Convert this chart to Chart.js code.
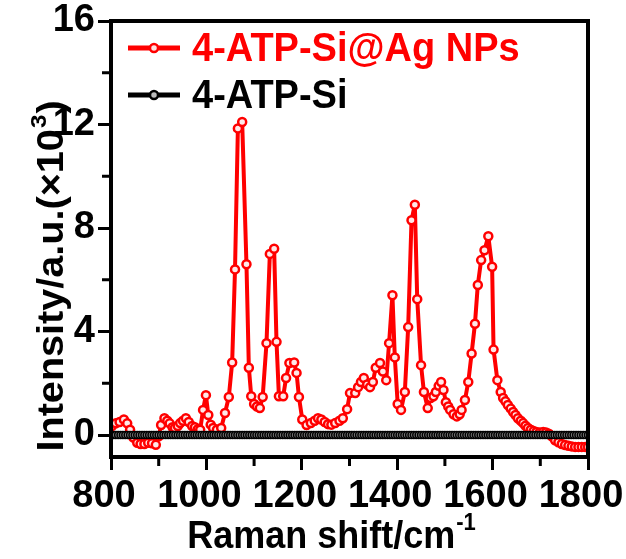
<!DOCTYPE html>
<html><head><meta charset="utf-8">
<script src="https://cdn.jsdelivr.net/npm/chart.js@4/dist/chart.umd.min.js"></script>
<style>html,body{margin:0;padding:0;background:#fff}canvas{display:block}</style>
</head><body><canvas id="c" width="626" height="559"></canvas>
<script>
// ---- data (intensity in units of 10^3 a.u.) ----
const redShift = [802,810,818,827,834,840,847,855,862,870,878,886,894,900,905,912,918,923,929,934,
940,945,951,957,963,970,976,982,987,993,999,1004,1009,1014,1022,1031,1039,1047,1054,1060,
1066,1075,1084,1089,1094,1100,1106,1112,1118,1126,1133,1142,1147,1152,1161,1167,1174,1184,1189,1194,
1201,1210,1219,1227,1234,1241,1248,1255,1262,1270,1279,1286,1295,1301,1312,1318,1324,1330,1337,1343,
1349,1355,1364,1370,1377,1383,1390,1395,1401,1408,1416,1423,1430,1437,1442,1450,1456,1464,1470,1476,
1481,1487,1492,1497,1502,1507,1511,1518,1525,1531,1535,1542,1549,1556,1563,1569,1576,1583,1591,1599,
1602,1610,1617,1622,1627,1632,1638,1643,1648,1653,1659,1664,1669,1674,1680,1686,1692,1699,1706,1712,
1718,1724,1731,1738,1745,1752,1759,1766,1773,1780,1787,1794,1800];
const redIntensity = [0.35,0.45,0.5,0.6,0.45,0.2,-0.1,-0.3,-0.35,-0.35,-0.3,-0.32,-0.38,-0.05,0.39,0.65,0.55,0.45,0.3,0.27,
0.35,0.46,0.55,0.65,0.5,0.35,0.3,0.22,0.2,0.97,1.54,0.77,0.4,0.27,0.2,0.27,0.85,1.47,2.8,6.4,
11.85,12.1,6.6,2.6,1.5,1.2,1.1,1.04,1.47,3.55,7.0,7.2,3.6,1.5,1.5,2.2,2.78,2.8,2.4,1.47,
0.6,0.39,0.46,0.55,0.65,0.6,0.5,0.42,0.4,0.46,0.55,0.65,1.0,1.62,1.62,1.85,2.05,2.2,1.95,1.85,
2.05,2.6,2.78,2.45,2.12,3.55,5.4,3.0,1.2,0.97,1.66,4.17,8.3,8.9,5.25,2.7,1.66,1.04,1.43,1.5,
1.66,1.9,2.05,1.74,1.27,1.1,0.97,0.8,0.72,0.8,0.97,1.35,2.05,3.15,4.3,5.8,6.76,7.14,7.68,6.5,
3.3,2.12,1.66,1.43,1.3,1.16,1.02,0.89,0.77,0.65,0.55,0.46,0.36,0.27,0.2,0.15,0.12,0.1,0.12,0.1,
0.05,-0.05,-0.2,-0.28,-0.35,-0.39,-0.42,-0.44,-0.46,-0.46,-0.46,-0.46,-0.46];

const blackShift = [800,805,810,815,820,825,830,835,840,845,850,855,860,865,870,875,880,885,890,895,
900,905,910,915,920,925,930,935,940,945,950,955,960,965,970,975,980,985,990,995,
1000,1005,1010,1015,1020,1025,1030,1035,1040,1045,1050,1055,1060,1065,1070,1075,1080,1085,1090,1095,
1100,1105,1110,1115,1120,1125,1130,1135,1140,1145,1150,1155,1160,1165,1170,1175,1180,1185,1190,1195,
1200,1205,1210,1215,1220,1225,1230,1235,1240,1245,1250,1255,1260,1265,1270,1275,1280,1285,1290,1295,
1300,1305,1310,1315,1320,1325,1330,1335,1340,1345,1350,1355,1360,1365,1370,1375,1380,1385,1390,1395,
1400,1405,1410,1415,1420,1425,1430,1435,1440,1445,1450,1455,1460,1465,1470,1475,1480,1485,1490,1495,
1500,1505,1510,1515,1520,1525,1530,1535,1540,1545,1550,1555,1560,1565,1570,1575,1580,1585,1590,1595,
1600,1605,1610,1615,1620,1625,1630,1635,1640,1645,1650,1655,1660,1665,1670,1675,1680,1685,1690,1695,
1700,1705,1710,1715,1720,1725,1730,1735,1740,1745,1750,1755,1760,1765,1770,1775,1780,1785,1790,1795,
1800];
const blackIntensity = [0,0,0,0,0,0,0,0,0,0,0,0,0,0,0,0,0,0,0,0,
0,0,0,0,0,0,0,0,0,0,0,0,0,0,0,0,0,0,0,0,
0,0,0,0,0,0,0,0,0,0,0,0,0,0,0,0,0,0,0,0,
0,0,0,0,0,0,0,0,0,0,0,0,0,0,0,0,0,0,0,0,
0,0,0,0,0,0,0,0,0,0,0,0,0,0,0,0,0,0,0,0,
0,0,0,0,0,0,0,0,0,0,0,0,0,0,0,0,0,0,0,0,
0,0,0,0,0,0,0,0,0,0,0,0,0,0,0,0,0,0,0,0,
0,0,0,0,0,0,0,0,0,0,0,0,0,0,0,0,0,0,0,0,
0,0,0,0,0,0,0,0,0,0,0,0,0,0,0,0,0,0,0,0,
0,0,0,0,0,0,0,0,0,0,0,0,0,0,0,0,0,0,0,0,
0];

const xMajorTicks = [800,1000,1200,1400,1600,1800];
const xMinorTicks = [900,1100,1300,1500,1700];
const yMajorTicks = [0,4,8,12,16];
const yMinorTicks = [2,6,10,14];
const seriesNames = ['4-ATP-Si@Ag NPs','4-ATP-Si'];
const seriesColors = ['#ff0000','#000000'];
const xTitle = ['Raman shift/cm','-1'];
const yTitle = ['Intensity/a.u.(\u00d710','3',')'];

const FONT = '"Liberation Sans", Arial, sans-serif';

function pairs(xs, ys){ return xs.map((v,i)=>({x:v,y:ys[i]})); }

function stretchedText(ctx, str, x, y, size, sy){
  ctx.save();
  ctx.translate(x,y);
  ctx.scale(1,sy);
  ctx.font = 'bold '+size+'px '+FONT;
  ctx.fillText(str,0,0);
  const w = ctx.measureText(str).width;
  ctx.restore();
  return w;
}

const overlay = {
  id:'overlay',
  afterDraw(chart){
    const ctx = chart.ctx, a = chart.chartArea, xs = chart.scales.x, ys = chart.scales.y;
    ctx.save();
    // frame
    ctx.strokeStyle = '#000'; ctx.lineWidth = 4;
    ctx.strokeRect(a.left, a.top, a.right-a.left, a.bottom-a.top);
    // minor ticks
    ctx.lineWidth = 3; ctx.beginPath();
    xMinorTicks.forEach(v=>{ const p = xs.getPixelForValue(v); ctx.moveTo(p,a.bottom); ctx.lineTo(p,a.bottom+9); });
    yMinorTicks.forEach(v=>{ const p = ys.getPixelForValue(v); ctx.moveTo(a.left,p); ctx.lineTo(a.left-9,p); });
    ctx.stroke();

    ctx.fillStyle = '#000'; ctx.textBaseline = 'alphabetic'; ctx.textAlign = 'left';
    // x title
    ctx.font = 'bold 36px '+FONT;
    const w1 = ctx.measureText(xTitle[0]).width;
    ctx.font = 'bold 22px '+FONT;
    const w2 = ctx.measureText(xTitle[1]).width;
    let x0 = 331 - (w1+w2)/2;
    stretchedText(ctx, xTitle[0], x0, 548, 36, 1.1);
    stretchedText(ctx, xTitle[1], x0+w1+1, 530, 22, 1.1);

    // y title (rotated)
    ctx.save();
    ctx.translate(63, 277);
    ctx.rotate(-Math.PI/2);
    ctx.scale(1.1,1);
    ctx.font = 'bold 36px '+FONT;
    const t0 = ctx.measureText(yTitle[0]).width;
    const t2 = ctx.measureText(yTitle[2]).width;
    ctx.font = 'bold 22px '+FONT;
    const t1 = ctx.measureText(yTitle[1]).width;
    let s = -(t0+t1+t2)/2;
    ctx.font = 'bold 36px '+FONT; ctx.fillText(yTitle[0], s, 0);
    ctx.font = 'bold 22px '+FONT; ctx.fillText(yTitle[1], s+t0+1, -17);
    ctx.font = 'bold 36px '+FONT; ctx.fillText(yTitle[2], s+t0+t1+2, 0);
    ctx.restore();

    // legend
    const rows = [48, 95];
    seriesNames.forEach((name,i)=>{
      const yy = rows[i];
      ctx.strokeStyle = seriesColors[i]; ctx.lineWidth = 5;
      ctx.beginPath(); ctx.moveTo(128,yy); ctx.lineTo(180,yy); ctx.stroke();
      ctx.beginPath(); ctx.arc(154,yy,4,0,Math.PI*2);
      ctx.fillStyle = i===0 ? '#ffe0e0' : '#bbbbbb'; ctx.fill(); ctx.lineWidth = 2.5; ctx.stroke();
      ctx.fillStyle = seriesColors[i];
      stretchedText(ctx, name, 192, yy+13, 38, 1.08);
    });
    ctx.restore();
  }
};

new Chart(document.getElementById('c'), {
  type:'line',
  data:{
    datasets:[
      { label:seriesNames[0], data:pairs(redShift,redIntensity), order:1,
        borderColor:seriesColors[0], borderWidth:4, tension:0, borderJoinStyle:'round',
        pointRadius:4, pointBorderWidth:2.5, pointBorderColor:'#ff0000', pointBackgroundColor:'#ffe8e8' },
      { label:seriesNames[1], data:pairs(blackShift,blackIntensity), order:0,
        borderColor:'#000000', borderWidth:3, tension:0,
        pointRadius:3.5, pointBorderWidth:1.5, pointBorderColor:'#000000', pointBackgroundColor:'#808080' }
    ]
  },
  options:{
    responsive:false, animation:false, devicePixelRatio:1,
    layout:{padding:{top:21,right:38,left:0,bottom:0}},
    plugins:{legend:{display:false}, tooltip:{enabled:false}},
    scales:{
      x:{ type:'linear', min:800, max:1800,
        afterBuildTicks:s=>{ s.ticks = xMajorTicks.map(v=>({value:v})); },
        afterFit:s=>{ s.height = 102; s.paddingLeft = 0; s.paddingRight = 0; },
        grid:{display:true, drawOnChartArea:false, drawTicks:true, tickLength:13, tickWidth:3, tickColor:'#000'},
        border:{display:true, color:'#000', width:4},
        ticks:{ color:'#000', padding:4, maxRotation:0, autoSkip:false, labelOffset:-7, callback:v=>String(v),
          font:{family:FONT, size:38, weight:'bold'} }
      },
      y:{ type:'linear', min:-0.85, max:16,
        afterBuildTicks:s=>{ s.ticks = yMajorTicks.map(v=>({value:v})); },
        afterFit:s=>{ s.width = 111; s.paddingTop = 0; s.paddingBottom = 0; },
        grid:{display:true, drawOnChartArea:false, drawTicks:true, tickLength:13, tickWidth:3, tickColor:'#000'},
        border:{display:true, color:'#000', width:4},
        ticks:{ color:'#000', padding:3, autoSkip:false, callback:v=>String(v),
          font:{family:FONT, size:38, weight:'bold'} }
      }
    }
  },
  plugins:[overlay]
});
</script>
</body></html>
